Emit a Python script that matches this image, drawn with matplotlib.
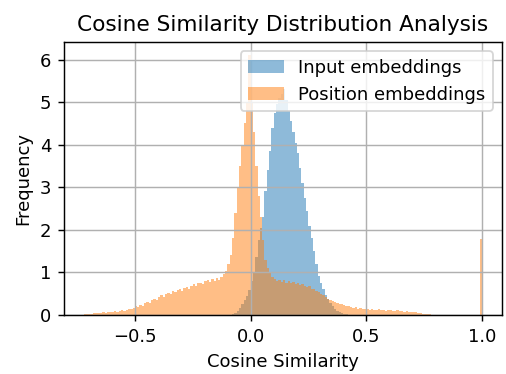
import numpy as np
import matplotlib
matplotlib.use("Agg")
import matplotlib.pyplot as plt
from matplotlib.ticker import MultipleLocator

# Histogram densities per 0.01-wide bin
bin_width = 0.01

# Input embeddings: bins from -0.08 to 0.42
input_start = -0.08
input_density = [
    0.02, 0.05, 0.10, 0.17, 0.25, 0.35, 0.45, 0.58, 0.80, 1.00,
    1.35, 1.75, 2.05, 2.30, 2.90, 3.40, 3.85, 4.40, 4.75, 4.95,
    5.10, 5.20, 5.30, 5.05, 4.80, 4.55, 4.30, 4.05, 3.80, 3.45,
    3.10, 2.75, 2.45, 2.10, 1.80, 1.50, 1.20, 0.92, 0.75, 0.60,
    0.47, 0.37, 0.28, 0.20, 0.14, 0.09, 0.06, 0.04, 0.02, 0.01,
]

# Position embeddings: bins from -0.72 to 0.78, plus the self-similarity bin at 1.0
position_start = -0.72
position_density = [
    0.01, 0.01, 0.02, 0.02, 0.04, 0.04, 0.05, 0.04, 0.06, 0.05,
    0.07, 0.06, 0.08, 0.09, 0.08, 0.10, 0.11, 0.10, 0.12, 0.14,
    0.15, 0.17, 0.20, 0.19, 0.24, 0.22, 0.27, 0.30, 0.28, 0.34,
    0.38, 0.36, 0.42, 0.46, 0.43, 0.49, 0.52, 0.48, 0.55, 0.53,
    0.58, 0.61, 0.57, 0.64, 0.66, 0.62, 0.69, 0.72, 0.67, 0.74,
    0.76, 0.72, 0.79, 0.81, 0.77, 0.84, 0.80, 0.86, 0.83, 0.88,
    0.95, 1.02, 1.20, 1.40, 1.80, 2.40, 3.00, 3.50, 4.00, 4.50,
    5.00, 6.10, 5.00, 4.30, 3.50, 2.80, 2.30, 1.75, 1.30, 1.10,
    0.98, 0.90, 0.84, 0.80, 0.83, 0.78, 0.81, 0.76, 0.79, 0.74,
    0.77, 0.72, 0.75, 0.70, 0.73, 0.68, 0.66, 0.69, 0.62, 0.60,
    0.57, 0.53, 0.50, 0.46, 0.42, 0.38, 0.35, 0.33, 0.30, 0.28,
    0.26, 0.25, 0.23, 0.21, 0.20, 0.19, 0.17, 0.18, 0.15, 0.16,
    0.14, 0.13, 0.15, 0.12, 0.13, 0.11, 0.12, 0.13, 0.11, 0.12,
    0.10, 0.12, 0.11, 0.10, 0.09, 0.11, 0.09, 0.10, 0.08, 0.09,
    0.07, 0.08, 0.06, 0.07, 0.05, 0.04, 0.03, 0.03, 0.02, 0.01,
]
self_sim_density = 1.79
self_sim_width = 0.008

labels = ["Input embeddings", "Position embeddings"]


def edges_from(start, n):
    return start + bin_width * np.arange(n + 1)


in_edges = edges_from(input_start, len(input_density))
in_centers = 0.5 * (in_edges[:-1] + in_edges[1:])

pos_main = edges_from(position_start, len(position_density))
pos_edges = np.concatenate([pos_main, [1.0 - self_sim_width, 1.0]])
pos_weights = np.array(position_density + [0.0, self_sim_density])
pos_centers = 0.5 * (pos_edges[:-1] + pos_edges[1:])

fig = plt.figure(figsize=(506 / 130, 374 / 130), dpi=130)
ax = fig.add_axes([0.1265, 0.158, 0.8655, 0.729])

ax.hist(in_centers, bins=in_edges, weights=input_density, alpha=0.5,
        histtype="stepfilled", label=labels[0])
ax.hist(pos_centers, bins=pos_edges, weights=pos_weights, alpha=0.5,
        histtype="stepfilled", label=labels[1])

ax.xaxis.set_major_locator(MultipleLocator(0.5))
ax.set_title("Cosine Similarity Distribution Analysis")
ax.set_xlabel("Cosine Similarity")
ax.set_ylabel("Frequency")
ax.legend(loc="upper right")
ax.grid(True)

fig.savefig("out.png", dpi=130)
